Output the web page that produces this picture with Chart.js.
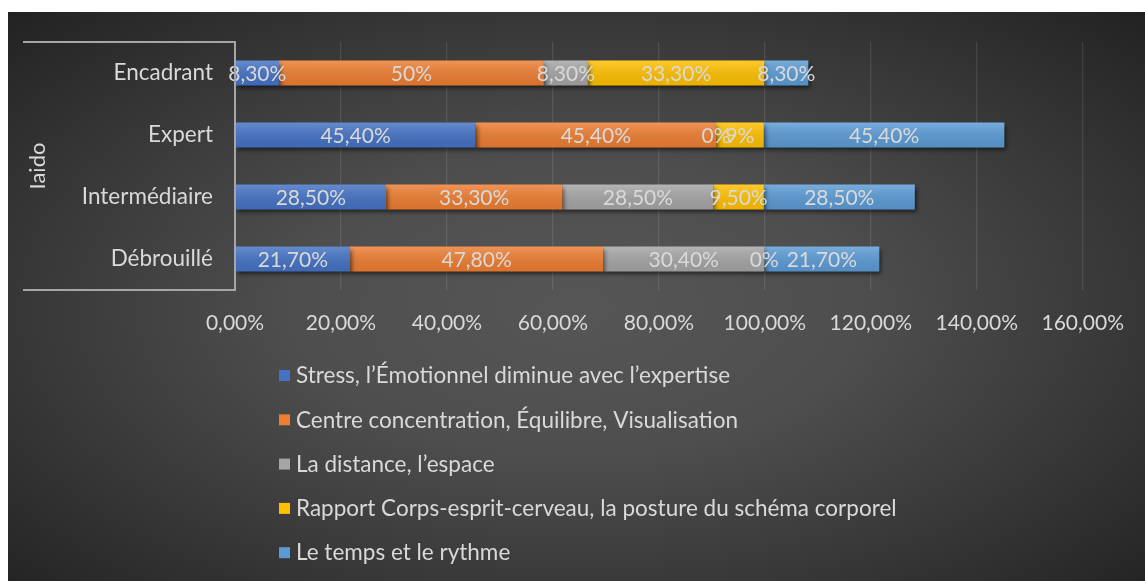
<!DOCTYPE html>
<html>
<head>
<meta charset="utf-8">
<script src="https://cdn.jsdelivr.net/npm/chart.js@4/dist/chart.umd.min.js"></script>
<style>
  body { margin: 0; background: #fff; }
  #wrap {
    position: absolute; left: 8px; top: 12px; width: 1137px; height: 569px;
    background: radial-gradient(ellipse farthest-corner at 50% 52%, #565656 0%, #4e4e4e 35%, #3a3a3a 65%, #222 100%);
  }
</style>
</head>
<body>
<div id="wrap"><canvas id="Chart" width="1137" height="569"></canvas></div>
<script>
const categories = ['Encadrant', 'Expert', 'Intermédiaire', 'Débrouillé'];
const groupLabel = 'Iaido';
const seriesNames = [
  'Stress, l’Émotionnel diminue avec l’expertise',
  'Centre concentration, Équilibre, Visualisation',
  'La distance, l’espace',
  'Rapport Corps-esprit-cerveau, la posture du schéma corporel',
  'Le temps et le rythme'
];
const stress = [8.3, 45.4, 28.5, 21.7];
const centre = [50, 45.4, 33.3, 47.8];
const distance = [8.3, 0, 28.5, 30.4];
const rapport = [33.3, 9, 9.5, 0];
const temps = [8.3, 45.4, 28.5, 21.7];
const colors = ['#4472C4', '#ED7D31', '#A5A5A5', '#FFC000', '#5B9BD5'];
const xTicks = [0, 20, 40, 60, 80, 100, 120, 140, 160];

const txt = '#d9d9d9';
const fontFam = 'Lato, "Open Sans", sans-serif';
const ctx = document.getElementById('Chart').getContext('2d');

function pct(v) {
  if (Number.isInteger(v)) return v + '%';
  return v.toFixed(2).replace('.', ',') + '%';
}

// shadows under bars
const shadowPlugin = {
  id: 'shadows',
  beforeDatasetsDraw(chart) {
    const c = chart.ctx;
    c.save();
    c.shadowColor = 'rgba(0,0,0,0.55)';
    c.shadowBlur = 4;
    c.shadowOffsetX = 2;
    c.shadowOffsetY = 3;
  },
  afterDatasetsDraw(chart) {
    chart.ctx.restore();
  }
};

// sheen on bars + value labels
const labelPlugin = {
  id: 'barLabels',
  afterDatasetsDraw(chart) {
    const c = chart.ctx;
    c.save();
    chart.data.datasets.forEach((ds, i) => {
      chart.getDatasetMeta(i).data.forEach(el => {
        const h = el.height, top = el.y - h / 2;
        const w = el.x - el.base;
        if (w > 0) {
          const g = c.createLinearGradient(0, top, 0, top + h);
          g.addColorStop(0, 'rgba(255,255,255,0.18)');
          g.addColorStop(1, 'rgba(0,0,0,0.08)');
          c.fillStyle = g;
          c.fillRect(el.base, top, w, h);
        }
      });
    });
    c.font = '21px ' + fontFam;
    c.fillStyle = txt;
    c.textAlign = 'center';
    c.textBaseline = 'middle';
    chart.data.datasets.forEach((ds, i) => {
      chart.getDatasetMeta(i).data.forEach((el, j) => {
        c.fillText(pct(ds.data[j]), (el.x + el.base) / 2, el.y + 1);
      });
    });
    c.restore();
  }
};

// bracket of the multi-level category axis + legend list
const framePlugin = {
  id: 'frame',
  afterDraw(chart) {
    const c = chart.ctx;
    const a = chart.chartArea;
    c.save();
    c.strokeStyle = '#a6a6a6';
    c.lineWidth = 2;
    c.beginPath();
    c.moveTo(15, a.top);
    c.lineTo(a.left, a.top);
    c.lineTo(a.left, a.bottom);
    c.lineTo(15, a.bottom);
    c.stroke();

    c.fillStyle = txt;
    c.font = '22px ' + fontFam;
    c.textAlign = 'center';
    c.textBaseline = 'middle';
    c.translate(30, (a.top + a.bottom) / 2);
    c.rotate(-Math.PI / 2);
    c.fillText(groupLabel, 0, 0);
    c.restore();

    c.save();
    c.font = '22.5px ' + fontFam;
    c.textBaseline = 'middle';
    seriesNames.forEach((name, i) => {
      const y = 363 + i * 44.3;
      c.fillStyle = colors[i];
      c.fillRect(271, y - 5, 11, 11);
      c.fillStyle = txt;
      c.fillText(name, 288, y + 1);
    });
    c.restore();
  }
};

const seriesData = [stress, centre, distance, rapport, temps];

new Chart(ctx, {
  type: 'bar',
  data: {
    labels: categories,
    datasets: seriesData.map((d, i) => ({
      label: seriesNames[i],
      data: d,
      backgroundColor: colors[i],
      borderWidth: 0,
      barPercentage: 0.4,
      categoryPercentage: 1
    }))
  },
  options: {
    indexAxis: 'y',
    responsive: false,
    animation: false,
    layout: { padding: { top: 30, right: 62, bottom: 231, left: 0 } },
    plugins: {
      legend: { display: false },
      tooltip: { enabled: false }
    },
    scales: {
      x: {
        stacked: true,
        min: 0,
        max: 160,
        afterBuildTicks(scale) { scale.ticks = xTicks.map(v => ({ value: v })); },
        afterFit(scale) { scale.height = 60; },
        grid: { color: 'rgba(255,255,255,0.1)', lineWidth: 1.3, drawTicks: false },
        border: { display: false },
        ticks: {
          color: txt,
          font: { family: fontFam, size: 21 },
          padding: 21,
          maxRotation: 0,
          callback: v => v.toFixed(2).replace('.', ',') + '%'
        }
      },
      y: {
        stacked: true,
        afterFit(scale) {
          scale.width = 227;
          scale.paddingTop = 0;
          scale.paddingBottom = 0;
        },
        grid: { display: false, drawTicks: false },
        border: { display: false },
        ticks: {
          color: txt,
          font: { family: fontFam, size: 22.5 },
          padding: 22
        }
      }
    }
  },
  plugins: [shadowPlugin, labelPlugin, framePlugin]
});
</script>
</body>
</html>
